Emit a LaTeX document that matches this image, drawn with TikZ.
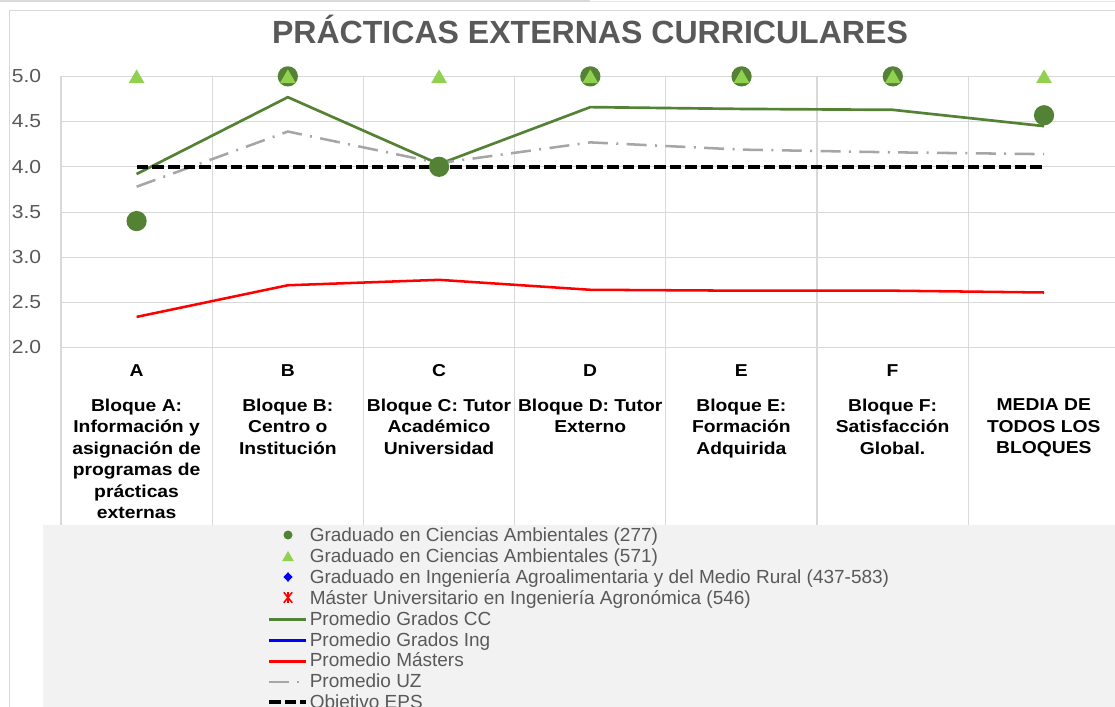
\documentclass[tikz,border=0pt]{standalone}
\usepackage{fontspec}
\setmainfont{Liberation Sans}
\newfontfamily\stretchfont[FakeStretch=1.12]{Liberation Sans}
\usetikzlibrary{shapes.geometric}

\definecolor{titlegray}{HTML}{595959}
\definecolor{gridgray}{HTML}{D9D9D9}
\definecolor{legendgray}{HTML}{F2F2F2}
\definecolor{ccgreen}{HTML}{548235}
\definecolor{lightgreen}{HTML}{92D050}
\definecolor{uzgray}{HTML}{A6A6A6}
\definecolor{masterred}{HTML}{FF0000}
\definecolor{ingblue}{HTML}{0000FF}

\tikzset{%
  % Specifications for style of nodes:
      charttitle/.style = {anchor=base, text=titlegray, font=\bfseries\fontsize{22.8}{27}\selectfont},
       ticklabel/.style = {anchor=base east, text=titlegray, font=\stretchfont\fontsize{13.4}{15}\selectfont},
       catletter/.style = {anchor=base, font=\stretchfont\bfseries\fontsize{12.25}{15.3}\selectfont},
        catlabel/.style = {anchor=north, align=center, font=\stretchfont\bfseries\fontsize{12.25}{15.3}\selectfont},
      legendtext/.style = {anchor=base west, text=titlegray, font=\fontsize{13.5}{16}\selectfont},
           dotcc/.style = {circle, fill=ccgreen, minimum size=14.4pt},
        triangle/.style = {regular polygon, regular polygon sides=3, fill=lightgreen, minimum size=13.1pt, yshift=-1.6pt},
  % Specifications for style of lines:
        gridline/.style = {draw=gridgray, line width=0.8pt},
        seriescc/.style = {draw=ccgreen, line width=1.9pt, line join=round},
       seriesing/.style = {draw=ingblue, line width=1.9pt},
    seriesmaster/.style = {draw=masterred, line width=1.8pt, line join=round},
        seriesuz/.style = {draw=uzgray, line width=1.8pt, dash pattern=on 14.2pt off 6pt on 1.4pt off 6pt},
       objective/.style = {draw=black, line width=2.8pt, dash pattern=on 8.3pt off 2.85pt}
}

\begin{document}
\begin{tikzpicture}[x=0.025cm, y=-0.025cm, every node/.style={inner sep=0pt}]
    \useasboundingbox (0,0) rectangle (1115,707);
    \clip (0,0) rectangle (1115,707);
    \fill[white] (0,0) rectangle (1115,707);

    % Frame and legend area
    \draw[gridgray, line width=1.4pt] (0,1) -- (590,1);
    \draw[gridgray!60, line width=0.7pt] (590,1) -- (1115,1);
    \draw[gridgray, line width=0.9pt] (9.5,707) -- (9.5,10.5) -- (1115,10.5);
    \fill[legendgray] (43,525) rectangle (1115,707);

    % Draw grid and axis labels
    \foreach \i in {0,...,6}
        \draw[gridline] ({61+151.2*\i},76.5) -- ({61+151.2*\i},525);
    \foreach \v [count=\k] in {5.0,4.5,4.0,3.5,3.0,2.5,2.0} {
        \draw[gridline] (61,{76.5+(5-\v)*90.4}) -- (1115,{76.5+(5-\v)*90.4});
        \node[ticklabel] (tick\k) at (41.5,{76.5+(5-\v)*90.4+6.3}) {\v};
    }

    % Draw nodes
    \node[charttitle] (title) at (590,43.3) {PRÁCTICAS EXTERNAS CURRICULARES};

    \node[catletter] (letA) at (136.6,377) {A};
    \node[catletter] (letB) at (287.8,377) {B};
    \node[catletter] (letC) at (439.0,377) {C};
    \node[catletter] (letD) at (590.2,377) {D};
    \node[catletter] (letE) at (741.4,377) {E};
    \node[catletter] (letF) at (892.6,377) {F};

    \node[catlabel] (blockA) at (136.6,398.5) {Bloque A:\\Información y\\asignación de\\programas de\\prácticas\\externas};
    \node[catlabel] (blockB) at (287.8,398.5) {Bloque B:\\Centro o\\Institución};
    \node[catlabel] (blockC) at (439.0,398.5) {Bloque C: Tutor\\Académico\\Universidad};
    \node[catlabel] (blockD) at (590.2,398.5) {Bloque D: Tutor\\Externo};
    \node[catlabel] (blockE) at (741.4,398.5) {Bloque E:\\Formación\\Adquirida};
    \node[catlabel] (blockF) at (892.6,398.5) {Bloque F:\\Satisfacción\\Global.};
    \node[catlabel] (blockG) at (1043.8,398.5) {MEDIA DE\\TODOS LOS\\BLOQUES};

    % Draw series
    \begin{scope}[shift={(136.6,528.5)}, x=3.78cm, y=2.26cm]
        \draw[seriescc]     (0,3.92) -- (1,4.77) -- (2,4.03) -- (3,4.66) -- (4,4.64) -- (5,4.63) -- (6,4.45);
        \draw[seriesmaster] (0,2.34) -- (1,2.69) -- (2,2.75) -- (3,2.64) -- (4,2.63) -- (5,2.63) -- (6,2.61);
        \draw[seriesuz]     (0,3.78) -- (1,4.39) -- (2,4.04) -- (3,4.27) -- (4,4.19) -- (5,4.16) -- (6,4.14);
        \draw[objective]    (0,4) -- (6,4);

        \foreach \v [count=\i from 0] in {3.4,5,4,5,5,5,4.57}
            \node[dotcc] (circ\i) at (\i,\v) {};
        \foreach \i in {0,...,6}
            \node[triangle] (tri\i) at (\i,5) {};
    \end{scope}

    % Draw legend
    \node[dotcc, minimum size=6.4pt] (keyA) at (288,535) {};
    \node[triangle, minimum size=9.6pt, yshift=0.4pt] (keyB) at (288,556) {};
    \node[diamond, fill=ingblue, minimum width=6.6pt, minimum height=7pt] (keyC) at (288,577) {};
    \node (keyD) at (288,597.5) {};
    \draw[masterred, line width=1.1pt] (keyD) +(-4.2,-5.2) -- +(4.2,5.2)
                                       (keyD) +(-4.2,5.2) -- +(4.2,-5.2)
                                       (keyD) +(0,-5.4) -- +(0,5.4);
    \draw[seriescc]     (269,619.5) -- (306,619.5);
    \draw[seriesing]    (269,640.5) -- (306,640.5);
    \draw[seriesmaster] (269,661.3) -- (306,661.3);
    \draw[seriesuz]     (269,681.8) -- (306,681.8);
    \draw[objective]    (269,701.8) -- (306,701.8);

    \node[legendtext] (leg1) at (309.5,541.7) {Graduado en Ciencias Ambientales (277)};
    \node[legendtext] (leg2) at (309.5,562.6) {Graduado en Ciencias Ambientales (571)};
    \node[legendtext] (leg3) at (309.5,583.4) {Graduado en Ingeniería Agroalimentaria y del Medio Rural (437-583)};
    \node[legendtext] (leg4) at (309.5,604.3) {Máster Universitario en Ingeniería Agronómica (546)};
    \node[legendtext] (leg5) at (309.5,625.1) {Promedio Grados CC};
    \node[legendtext] (leg6) at (309.5,646.0) {Promedio Grados Ing};
    \node[legendtext] (leg7) at (309.5,666.8) {Promedio Másters};
    \node[legendtext] (leg8) at (309.5,687.7) {Promedio UZ};
    \node[legendtext] (leg9) at (309.5,708.5) {Objetivo EPS};

\end{tikzpicture}
\end{document}
